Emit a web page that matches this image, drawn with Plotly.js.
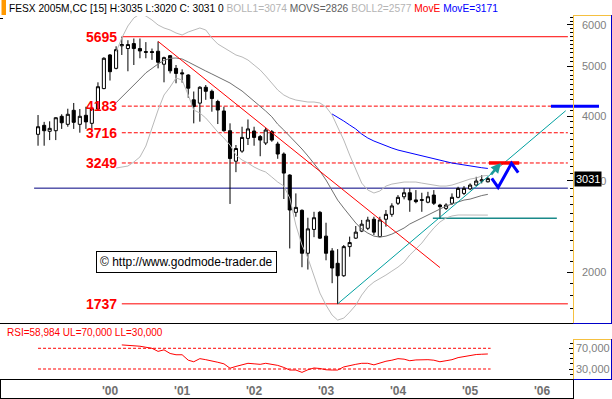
<!DOCTYPE html>
<html><head><meta charset="utf-8">
<script src="https://cdn.plot.ly/plotly-3.0.1.min.js"></script>
<style>html,body{margin:0;padding:0;background:#fff;overflow:hidden}#chart{width:612px;height:399px}</style>
</head><body><div id="chart"></div>
<script>
// ---- data ----
const months = ['1999-01','1999-02','1999-03','1999-04','1999-05','1999-06','1999-07','1999-08','1999-09','1999-10','1999-11','1999-12',
'2000-01','2000-02','2000-03','2000-04','2000-05','2000-06','2000-07','2000-08','2000-09','2000-10','2000-11','2000-12',
'2001-01','2001-02','2001-03','2001-04','2001-05','2001-06','2001-07','2001-08','2001-09','2001-10','2001-11','2001-12',
'2002-01','2002-02','2002-03','2002-04','2002-05','2002-06','2002-07','2002-08','2002-09','2002-10','2002-11','2002-12',
'2003-01','2003-02','2003-03','2003-04','2003-05','2003-06','2003-07','2003-08','2003-09','2003-10','2003-11','2003-12',
'2004-01','2004-02','2004-03','2004-04','2004-05','2004-06','2004-07','2004-08','2004-09','2004-10','2004-11','2004-12',
'2005-01','2005-02','2005-03','2005-04'];
const openP  = [3690,3841,3740,3750,3998,3858,4106,3858,4016,3875,4130,4522,
5251,4948,5470,5403,5524,5403,5330,5330,5339,5040,5235,4948,
4850,4804,4302,4239,4549,4468,4270,4094,3750,3275,3425,3624,
3745,3653,3550,3733,3535,3381,3079,2609,2632,2175,2418,2609,
2347,2198,2080,1968,2240,2326,2400,2430,2530,2342,2530,2586,
2716,2796,2846,2757,2750,2729,2817,2695,2655,2716,2789,2838,
2895,2945,2998,2988];
const highP  = [4021,3900,3910,3980,4034,4135,4242,4130,4172,4172,4650,5198,
5274,5458,5695,5607,5650,5650,5560,5403,5577,5212,5251,5022,
4926,4819,4464,4570,4595,4502,4302,4172,3875,3519,3817,3942,
3817,3679,3798,3762,3570,3406,3090,2838,2644,2547,2615,2625,
2491,2225,2215,2256,2342,2455,2522,2558,2558,2558,2636,2716,
2817,2902,2902,2880,2846,2858,2880,2710,2716,2838,2923,2931,
2967,3055,3079,3055];
const lowP   = [3508,3508,3597,3597,3780,3817,3780,3717,3780,3775,4099,4510,
4687,4926,5251,4884,5022,5175,5175,5138,4948,4650,4838,4630,
4642,4340,3875,3904,4302,4081,3863,3733,2708,3119,3399,3519,
3508,3348,3519,3570,3310,2768,2222,2558,2044,2023,2336,2318,
2108,1904,1737,1959,2142,2318,2389,2411,2358,2336,2448,2558,
2695,2764,2615,2716,2615,2716,2695,2540,2636,2695,2777,2817,
2880,2936,2967,2980];
const closeP = [3817,3750,3790,3973,3885,4034,3892,3998,3900,4143,4560,5175,
4875,5378,5500,5500,5403,5346,5315,5310,5084,5189,4894,4838,
4830,4530,4177,4549,4468,4326,4111,3750,3314,3465,3640,3780,
3640,3597,3762,3597,3381,3106,2636,2667,2175,2424,2547,2326,
2175,2037,1968,2240,2281,2389,2475,2521,2389,2522,2586,2684,
2789,2846,2757,2736,2760,2796,2716,2675,2695,2789,2902,2902,
2945,2998,3015,3031];
// Bollinger bands and MovS from 2000-02 on, MovE from 2003-02 on, RSI from 2000-03 on
const bollUpper = [5321,5663,5974,6190,6301,6245,6135,6000,5921,5868,
5790,5739,5816,5868,5921,5868,5663,5514,5417,5321,
5251,5205,5135,5022,4912,4783,4636,4494,4395,4337,
4298,4279,4260,4260,4242,4167,4021,3812,3598,3366,
3149,2971,2881,2843,2868,2932,2958,2971,2985,2985,
2985,2971,2958,2945,2932,2932,2945,2971,2998,3025,
3039,3066,3074];
const bollLower = [3177,3191,3205,3263,3337,3503,3795,4111,4395,4554,
4740,4698,4395,4111,4057,3967,3846,3728,3630,3519,
3366,3292,3248,3191,3149,3121,3052,2985,2932,2780,
2466,2256,2129,1974,1822,1727,1652,1616,1630,1674,
1727,1806,1871,1914,1940,1974,2009,2045,2091,2158,
2216,2276,2358,2433,2499,2544,2567,2578,2578,2578,
2578,2577,2577];
const movS = [4247,4351,4474,4595,4720,4850,4955,5045,5124,5174,
5181,5158,5090,5022,4955,4890,4826,4762,4698,4636,
4554,4474,4376,4279,4186,4093,3990,3860,3760,3660,
3560,3457,3352,3248,3135,3012,2881,2755,2659,2567,
2488,2422,2379,2347,2337,2347,2368,2400,2433,2477,
2510,2544,2578,2612,2647,2683,2707,2731,2755,2767,
2792,2811,2826];
const movE = [4039,3986,3915,3846,3779,3695,3630,3582,3543,3504,
3472,3441,3418,3396,3373,3351,3329,3307,3285,3262,
3248,3234,3219,3205,3191,3181,3171];
const rsi = [76.5,76,75.5,74,72,70,64,67,60,57.5,
57.5,47,44,50,48,46,43,40,31.5,35,
38,41,40,39,41,39.5,37,33,28,28,
23.5,28.5,32,31,28.5,28,28,34,37,39,
41,41,38,42,45,47,50,49,46,47.5,
48,48,47,44,46,48,52,54,57,58,
58.5,59];
// marked levels and drawn lines
const redLevels = [5695, 4183, 3716, 3249, 1737];
const redDashed = [false, true, true, true, false];
const navyLevel = 2905;
const tealLevel = 2540;
const redTrendX = ['2000-09-01','2004-08-01'], redTrendY = [5577, 2041];
const tealTrendX = ['2003-03-01','2006-05-01'], tealTrendY = [1737, 4098];
const blueFcX = ['2005-04-21','2005-05-23','2005-07-30','2005-09-02'], blueFcY = [3035, 2915, 3243, 3111];
const redBarX = ['2005-04-07','2005-09-07'], redBarY = [3249, 3249];
const blueBarLevel = 4183;
const lastClose = 3031;
const yearTicks = ['2000-01-01','2001-01-01','2002-01-01','2003-01-01','2004-01-01','2005-01-01','2006-01-01'];
const yearText = ["'00","'01","'02","'03","'04","'05","'06"];

// ---- layout helpers ----
const W = 612, H = 399;
const PX = v => v / W, PY = v => 1 - v / H;
const F = 'Arial, "Liberation Sans", sans-serif';
const dt = m => m + '-01';
const xD = months.map(dt);
const bandX = months.slice(13).map(dt);
const movEX = months.slice(49).map(dt);
const rsiX = months.slice(14).map(dt);
const lineStart = '2000-03-01', lineEnd = '2006-05-12';

const traces = [
  {type:'scatter', mode:'lines', x:bandX, y:bollUpper, line:{color:'#b9b9b9', width:1}, hoverinfo:'skip'},
  {type:'scatter', mode:'lines', x:bandX, y:bollLower, line:{color:'#b9b9b9', width:1}, hoverinfo:'skip'},
  {type:'scatter', mode:'lines', x:bandX, y:movS, line:{color:'#707070', width:1}, hoverinfo:'skip'},
  {type:'scatter', mode:'lines', x:movEX, y:movE, line:{color:'#0000ff', width:1}, hoverinfo:'skip'},
  {type:'scatter', mode:'lines', x:redTrendX, y:redTrendY, line:{color:'#ff0000', width:1}, hoverinfo:'skip'},
  {type:'scatter', mode:'lines', x:tealTrendX, y:tealTrendY, line:{color:'#00a0a0', width:1}, hoverinfo:'skip'},
  {type:'candlestick', x:xD, open:openP, high:highP, low:lowP, close:closeP,
   increasing:{line:{color:'#000', width:1}, fillcolor:'#ffffff'},
   decreasing:{line:{color:'#000', width:1}, fillcolor:'#000000'},
   whiskerwidth:0, hoverinfo:'skip'},
  {type:'scatter', mode:'lines', x:redBarX, y:redBarY, line:{color:'#ff0000', width:3.5}, hoverinfo:'skip'},
  {type:'scatter', mode:'lines', x:blueFcX, y:blueFcY, line:{color:'#0000ff', width:3}, hoverinfo:'skip'},
  {type:'scatter', mode:'lines', x:rsiX, y:rsi, xaxis:'x2', yaxis:'y2', line:{color:'#ff0000', width:1}, hoverinfo:'skip'}
];

const shapes = [];
redLevels.forEach((lv, k) => shapes.push({type:'line', layer:'below', xref:'x', yref:'y', x0:lineStart, x1:lineEnd, y0:lv, y1:lv,
  line:{color:'#ff0000', width:1, dash: redDashed[k] ? '4px,2px' : 'solid'}}));
shapes.push({type:'line', layer:'below', xref:'x', yref:'y', x0:'1998-12-12', x1:lineEnd, y0:navyLevel, y1:navyLevel, line:{color:'#000080', width:1}});
shapes.push({type:'line', layer:'below', xref:'x', yref:'y', x0:'2004-06-26', x1:'2006-03-17', y0:tealLevel, y1:tealLevel, line:{color:'#1a8a8a', width:1.5}});
shapes.push({type:'line', xref:'paper', yref:'y', x0:PX(551), x1:PX(599), y0:blueBarLevel, y1:blueBarLevel, line:{color:'#0000ff', width:3}});
// RSI bands
[70, 30].forEach(v => shapes.push({type:'line', xref:'x2', yref:'y2', x0:'1999-01-01', x1:'2005-04-15', y0:v, y1:v, line:{color:'#ff0000', width:1, dash:'3px,2px'}}));
// frames
const seg = (x0,y0,x1,y1,c) => shapes.push({type:'line', xref:'paper', yref:'paper', x0:PX(x0), y0:PY(y0), x1:PX(x1), y1:PY(y1), line:{color:c, width:1}});
const YEL = '#f5c040', BLU = '#0000c8';
seg(573.5,15,573.5,324,YEL); seg(573,15.5,611,15.5,YEL); seg(611.5,15,611.5,324,BLU); seg(573,323.5,612,323.5,BLU);
seg(0,323.5,573,323.5,'#000');
seg(573.5,339,573.5,379.5,YEL); seg(573,339.5,611,339.5,YEL); seg(611.5,339,611.5,379.5,BLU); seg(573,379.5,612,379.5,BLU);
seg(0,379.5,573,379.5,'#000');
seg(0.5,380,0.5,398.5,'#000'); seg(0,398.5,573.5,398.5,'#000'); seg(573.5,379.5,573.5,399,'#000');
shapes.push({type:'rect', xref:'paper', yref:'paper', x0:PX(1.5), x1:PX(6), y0:PY(15), y1:PY(0), fillcolor:'#ff9900', line:{width:0}});
seg(0,18.5,3,18.5,'#000');

const annotations = [
  {xref:'paper', yref:'paper', x:PX(7), y:PY(8), xanchor:'left', yanchor:'middle', showarrow:false,
   font:{family:F, size:10.2, color:'#000'},
   text:'FESX 2005M,CC [15] H:3035 L:3020 C: 3031 0 <span style="color:#b4b4b4">BOLL1=3074</span> <span style="color:#606060">MOVS=2826</span> <span style="color:#b4b4b4">BOLL2=2577</span> <span style="color:#ff0000">MovE</span> <span style="color:#0000ff">MovE=3171</span>'},
  {xref:'paper', yref:'y', x:PX(574), y:Math.log10(lastClose), xanchor:'left', yanchor:'middle', showarrow:false,
   text:String(lastClose), bgcolor:'#000', font:{family:F, size:11, color:'#fff'}, borderpad:1},
  {xref:'paper', yref:'paper', x:PX(186.5), y:PY(262), xanchor:'center', yanchor:'middle', showarrow:false,
   text:'© http://www.godmode-trader.de', bgcolor:'#fff', bordercolor:'#000', borderwidth:1, borderpad:3,
   font:{family:F, size:12, color:'#000'}},
  {xref:'paper', yref:'paper', x:PX(5), y:PY(332), xanchor:'left', yanchor:'middle', showarrow:false,
   text:'RSI=58,984 UL=70,000 LL=30,000', font:{family:F, size:10, color:'#ff0000'}},
  {xref:'x', yref:'y', x:'2005-06-06', y:Math.log10(3250), ax:-11, ay:13, axref:'pixel', ayref:'pixel', text:'', showarrow:true,
   arrowhead:2, arrowsize:0.8, arrowwidth:2.5, arrowcolor:'#1a9a9a'}
];
redLevels.forEach(lv => annotations.push({xref:'paper', yref:'y', x:PX(119), y:Math.log10(lv), xanchor:'right', yanchor:'middle',
  showarrow:false, text:String(lv), font:{family:F, size:14, color:'#ff0000', weight:'bold'}}));

const minorVals = [];
for (let v = 1600; v <= 6200; v += 100) if (v % 1000) minorVals.push(v);

const layout = {
  width:W, height:H, margin:{l:0, r:0, t:0, b:0}, paper_bgcolor:'#fff', plot_bgcolor:'#fff',
  showlegend:false, font:{family:F}, boxgap:0.2,
  xaxis:{domain:[0, PX(573)], type:'date', range:['1998-06-22','2006-06-07'], anchor:'y', showticklabels:false,
    showgrid:false, zeroline:false, showline:false, ticks:'', rangeslider:{visible:false}},
  yaxis:{domain:[PY(323), PY(16)], type:'log', range:[3.2028, 3.7955], side:'right', anchor:'x',
    showgrid:false, zeroline:false, showline:false, tickmode:'array', tickvals:[2000,3000,4000,5000,6000],
    ticktext:['2000','3000','4000','5000','6000'], ticks:'inside', ticklen:6, tickcolor:'#000', tickwidth:1,
    tickfont:{family:F, size:11, color:'#808080'}, ticklabelstandoff:8,
    minor:{tickmode:'array', tickvals:minorVals, ticks:'inside', ticklen:3, tickcolor:'#000', showgrid:false}},
  xaxis2:{domain:[0, PX(573)], type:'date', matches:'x', anchor:'y2', showgrid:false, zeroline:false, showline:false,
    tickmode:'array', tickvals:yearTicks, ticktext:yearText, ticks:'',
    tickfont:{family:F, size:12, color:'#6e6e6e', weight:'bold'}, ticklabelstandoff:3},
  yaxis2:{domain:[PY(379), PY(340)], range:[10.7, 86], side:'right', anchor:'x2', showgrid:false, zeroline:false, showline:false,
    tickmode:'array', tickvals:[30,70], ticktext:['30,000','70,000'], ticks:'inside', ticklen:4, tickcolor:'#000',
    tickfont:{family:F, size:11, color:'#808080'}, ticklabelstandoff:2,
    minor:{dtick:10, ticks:'inside', ticklen:3, tickcolor:'#000', showgrid:false}},
  shapes:shapes, annotations:annotations
};
Plotly.newPlot('chart', traces, layout, {staticPlot:true, displayModeBar:false});
</script></body></html>
